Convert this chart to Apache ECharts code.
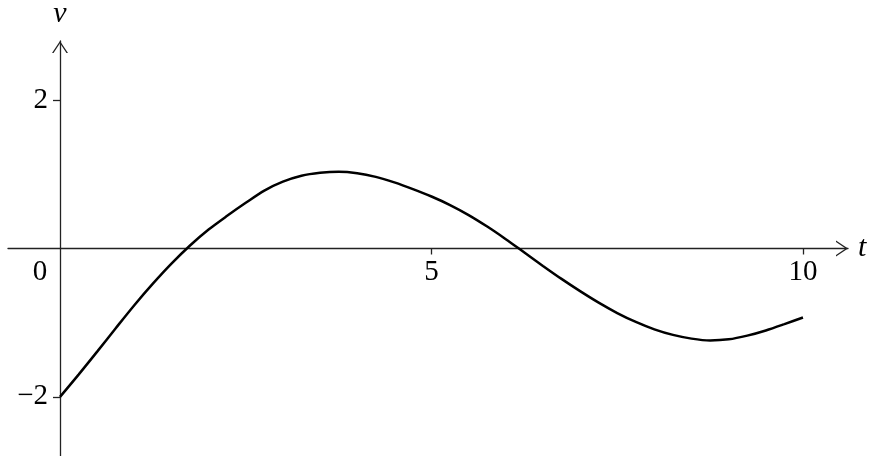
<!DOCTYPE html>
<html>
<head>
<meta charset="utf-8">
<title>v against t</title>
<script src="https://cdn.jsdelivr.net/npm/echarts@6/dist/echarts.min.js"></script>
<style>
  html, body { margin: 0; padding: 0; background: #fff; }
  #chart { width: 869px; height: 456px; }
</style>
</head>
<body>
<div id="chart"></div>
<script>
// curve, t step 0.25
var tValues = [0, 0.25, 0.5, 0.75, 1, 1.25, 1.5, 1.75, 2, 2.25, 2.5, 2.75, 3, 3.25, 3.5, 3.75, 4,
               4.25, 4.5, 4.75, 5, 5.25, 5.5, 5.75, 6, 6.25, 6.5, 6.75, 7, 7.25, 7.5, 7.75, 8,
               8.25, 8.5, 8.75, 9, 9.25, 9.5, 9.75, 10];
var vValues = [-2.00, -1.70, -1.39, -1.075, -0.765, -0.475, -0.205, 0.04, 0.255, 0.44, 0.615, 0.78,
               0.90, 0.98, 1.02, 1.035, 1.015, 0.965, 0.89, 0.80, 0.70, 0.585, 0.45, 0.295, 0.125,
               -0.055, -0.235, -0.41, -0.575, -0.73, -0.87, -0.99, -1.09, -1.165, -1.215, -1.24,
               -1.225, -1.175, -1.105, -1.02, -0.93];
var xTicks = [5, 10];
var xLabels = [0, 5, 10];
var yTicks = [-2, 2];

var font = '"Liberation Serif", "DejaVu Serif", serif';
var axisColor = '#222';
// open arrow head, pointing up before rotation
var chevron = 'path://M0,12 L8,0 L16,12 L14.44,12 L8,2.34 L1.56,12 Z';

var points = tValues.map(function (t, i) { return [t, vValues[i]]; });

var chart = echarts.init(document.getElementById('chart'));
chart.setOption({
  animation: false,
  backgroundColor: '#fff',
  grid: { left: 8, right: 21, top: 41, bottom: 0, containLabel: false, outerBoundsMode: 'none' },
  xAxis: {
    type: 'value',
    position: 'bottom',
    offset: -207.5, // lift the axis up to v = 0
    min: -0.70,
    max: 10.606,
    name: 't',
    nameLocation: 'end',
    nameGap: 10,
    nameTextStyle: { fontFamily: font, fontStyle: 'italic', fontSize: 30, color: '#000', verticalAlign: 'middle' },
    splitLine: { show: false },
    axisLine: {
      onZero: false,
      lineStyle: { color: axisColor, width: 1.3 },
      symbol: ['none', chevron],
      symbolSize: [16, 12],
      symbolOffset: [0, -6]
    },
    axisTick: { show: true, inside: false, length: 6, customValues: xTicks, lineStyle: { color: axisColor, width: 1.3 } },
    axisLabel: {
      customValues: xLabels,
      margin: 9,
      fontFamily: font,
      fontSize: 29,
      color: '#000',
      formatter: function (v) { return v === 0 ? '{z|0}' : String(v); },
      rich: { z: { fontFamily: font, fontSize: 29, color: '#000', padding: [0, 40, 0, 0] } }
    }
  },
  yAxis: {
    type: 'value',
    position: 'left',
    offset: -52, // move the axis right to t = 0
    min: -2.797,
    max: 2.796,
    name: 'v',
    nameLocation: 'end',
    nameGap: 12,
    nameTextStyle: { fontFamily: font, fontStyle: 'italic', fontSize: 30, color: '#000' },
    splitLine: { show: false },
    axisLine: {
      onZero: false,
      lineStyle: { color: axisColor, width: 1.3 },
      symbol: ['none', chevron],
      symbolSize: [16, 12],
      symbolOffset: [0, -6]
    },
    axisTick: { show: true, inside: false, length: 7, customValues: yTicks, lineStyle: { color: axisColor, width: 1.3 } },
    axisLabel: {
      customValues: yTicks,
      margin: 12,
      fontFamily: font,
      fontSize: 29,
      color: '#000',
      formatter: function (v) { return String(v).replace('-', '\u2212'); }
    }
  },
  series: [{
    type: 'line',
    data: points,
    smooth: 0.3,
    symbol: 'none',
    lineStyle: { color: '#000', width: 2.5 }
  }]
});
</script>
</body>
</html>
